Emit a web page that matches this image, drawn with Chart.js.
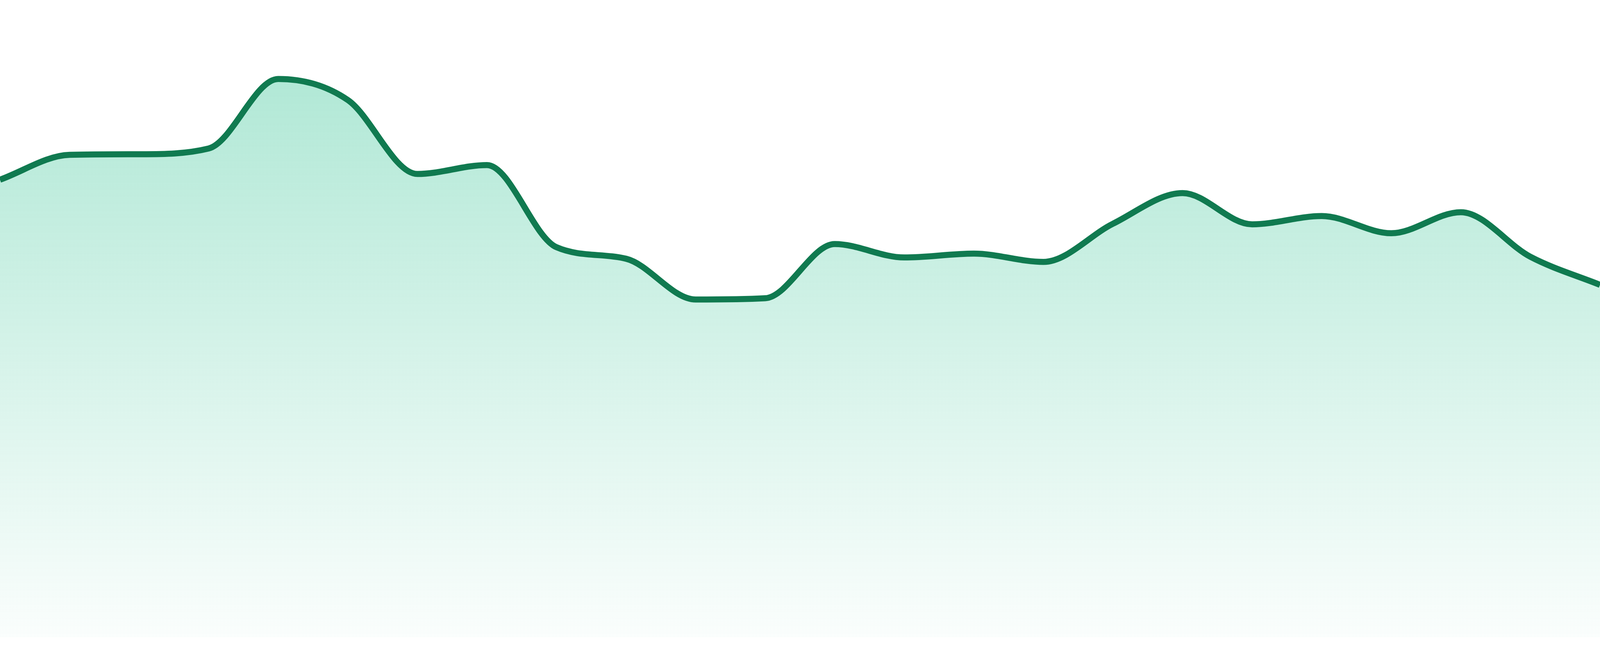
<!DOCTYPE html>
<html>
<head>
<meta charset="utf-8">
<script src="https://cdn.jsdelivr.net/npm/chart.js@4.4.1/dist/chart.umd.min.js"></script>
<style>
  html, body { margin: 0; padding: 0; background: #ffffff; overflow: hidden; }
  #wrap { width: 100vw; height: 100vh; position: relative; }
</style>
</head>
<body>
<div id="wrap"><canvas id="c"></canvas></div>
<script>
const labels = ["1","2","3","4","5","6","7","8","9","10","11","12","13","14","15","16","17","18","19","20","21","22","23","24"];
const values = [71.8, 75.7, 75.8, 76.7, 87.6, 84.3, 72.7, 74.1, 61.2, 59.4, 53.0, 53.2, 61.7, 59.6, 60.2, 58.9, 64.9, 69.7, 64.8, 66.1, 63.4, 66.7, 59.7, 55.3];
const yMin = 0;
const yMax = 100;
const lineColor = "#107a50";

const H = window.innerHeight;
const lineW = 15.5 * H / 1680;
const padBottom = 48 * H / 1680;

const ctx = document.getElementById("c").getContext("2d");
new Chart(ctx, {
  type: "line",
  data: {
    labels: labels,
    datasets: [{
      data: values,
      borderColor: lineColor,
      borderWidth: lineW,
      pointRadius: 0,
      pointHoverRadius: 0,
      cubicInterpolationMode: "monotone",
      fill: "start",
      backgroundColor: function(context) {
        const chart = context.chart;
        const area = chart.chartArea;
        if (!area) return "rgba(16,185,129,0.2)";
        const g = chart.ctx.createLinearGradient(0, area.top, 0, area.bottom);
        g.addColorStop(0, "rgba(16,185,129,0.37)");
        g.addColorStop(1, "rgba(16,185,129,0.02)");
        return g;
      }
    }]
  },
  options: {
    responsive: true,
    maintainAspectRatio: false,
    animation: false,
    layout: { padding: { top: 0, bottom: padBottom, left: 0, right: 0 } },
    plugins: { legend: { display: false }, tooltip: { enabled: false } },
    scales: {
      x: { display: false, offset: false },
      y: { display: false, min: yMin, max: yMax }
    }
  }
});
</script>
</body>
</html>
